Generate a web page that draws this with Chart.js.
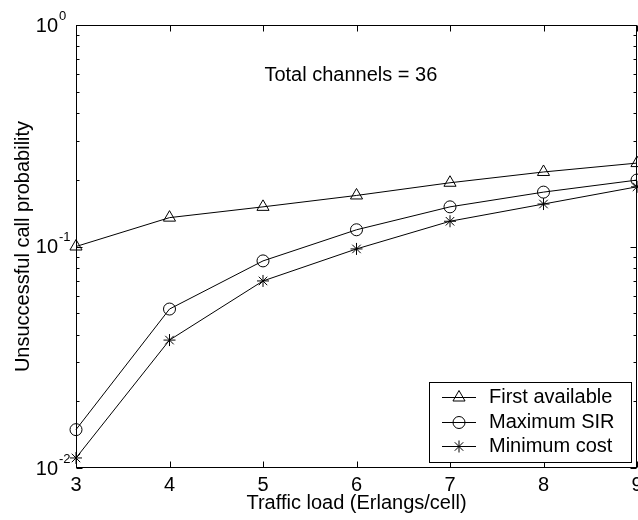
<!DOCTYPE html>
<html>
<head>
<meta charset="utf-8">
<script src="https://cdn.jsdelivr.net/npm/chart.js@4.4.1/dist/chart.umd.min.js"></script>
<style>
  html, body { margin: 0; padding: 0; background: #fff; overflow: hidden; }
</style>
</head>
<body>
<canvas id="chart" width="638" height="520"></canvas>
<script>
// data
const loads = [3, 4, 5, 6, 7, 8, 9];
const firstAvailable = [0.100, 0.135, 0.151, 0.170, 0.194, 0.217, 0.238];
const maximumSir = [0.0149, 0.0522, 0.0861, 0.119, 0.151, 0.176, 0.1995];
const minimumCost = [0.0111, 0.0378, 0.0699, 0.0975, 0.130, 0.1555, 0.186];
const seriesNames = ['First available', 'Maximum SIR', 'Minimum cost'];
const xTicks = [3, 4, 5, 6, 7, 8, 9];
const yExponents = [-2, -1, 0];
const note = 'Total channels = 36';

const FONT = '"Liberation Sans", Arial, Helvetica, sans-serif';
const SIZE = 20;

function toPoints(values) {
  return loads.map((x, i) => ({ x, y: values[i] }));
}

function series(label, values, pointStyle, radius) {
  return {
    label,
    data: toPoints(values),
    borderColor: '#000',
    borderWidth: 1,
    pointStyle,
    pointRadius: radius,
    pointBorderColor: '#000',
    pointBorderWidth: 1,
    pointBackgroundColor: 'rgba(0,0,0,0)',
    tension: 0,
    clip: false,
  };
}

// box, inward ticks, superscript y labels, note and legend
const figurePlugin = {
  id: 'figure',
  afterDraw(chart) {
    const { ctx, chartArea: a } = chart;
    const xs = chart.scales.x;
    const ys = chart.scales.y;
    const L = Math.round(a.left) + 0.5;
    const R = Math.round(a.right) - 0.5;
    const T = Math.round(a.top) + 0.5;
    const B = Math.round(a.bottom) - 0.5;
    ctx.save();
    ctx.strokeStyle = '#000';
    ctx.lineWidth = 1;
    ctx.strokeRect(L, T, R - L, B - T);

    ctx.beginPath();
    xTicks.forEach((v) => {
      const px = Math.round(xs.getPixelForValue(v)) + 0.5;
      ctx.moveTo(px, B); ctx.lineTo(px, B - 6);
      ctx.moveTo(px, T); ctx.lineTo(px, T + 6);
    });
    yExponents.forEach((e) => {
      const py = Math.round(ys.getPixelForValue(10 ** e)) + 0.5;
      ctx.moveTo(L, py); ctx.lineTo(L + 6, py);
      ctx.moveTo(R, py); ctx.lineTo(R - 6, py);
      if (e < 0) {
        for (let m = 2; m <= 9; m += 1) {
          const pm = Math.round(ys.getPixelForValue(m * 10 ** e)) + 0.5;
          ctx.moveTo(L, pm); ctx.lineTo(L + 3, pm);
          ctx.moveTo(R, pm); ctx.lineTo(R - 3, pm);
        }
      }
    });
    ctx.stroke();

    ctx.fillStyle = '#000';
    yExponents.forEach((e) => {
      const py = ys.getPixelForValue(10 ** e);
      ctx.font = `${SIZE}px ${FONT}`;
      ctx.textAlign = 'right';
      ctx.textBaseline = 'middle';
      ctx.fillText('10', a.left - 18, py + 1);
      ctx.font = `13px ${FONT}`;
      ctx.textAlign = 'left';
      ctx.fillText(String(e), a.left - 17, py - 9);
    });

    ctx.font = `${SIZE}px ${FONT}`;
    ctx.textAlign = 'center';
    ctx.textBaseline = 'middle';
    ctx.fillText(note, xs.getPixelForValue(5.94), ys.getPixelForValue(0.594));

    // legend box
    const box = { left: 429.5, top: 382.5, right: 631.5, bottom: 462.5 };
    ctx.fillStyle = '#fff';
    ctx.fillRect(box.left, box.top, box.right - box.left, box.bottom - box.top);
    ctx.strokeRect(box.left, box.top, box.right - box.left, box.bottom - box.top);
    chart.data.datasets.forEach((ds, i) => {
      const y = Math.round(397 + i * 24.5) + 0.5;
      ctx.beginPath();
      ctx.moveTo(442, y); ctx.lineTo(476, y);
      ctx.stroke();
      ctx.fillStyle = 'rgba(0,0,0,0)';
      Chart.helpers.drawPoint(ctx, {
        pointStyle: ds.pointStyle,
        radius: ds.pointRadius,
        borderWidth: 1,
        rotation: 0,
      }, 459, y);
      ctx.fillStyle = '#000';
      ctx.textAlign = 'left';
      ctx.fillText(ds.label, 489, y);
    });
    ctx.restore();
  },
};

new Chart(document.getElementById('chart'), {
  type: 'line',
  data: {
    datasets: [
      series(seriesNames[0], firstAvailable, 'triangle', 7),
      series(seriesNames[1], maximumSir, 'circle', 6),
      series(seriesNames[2], minimumCost, 'star', 6),
    ],
  },
  options: {
    responsive: false,
    animation: false,
    devicePixelRatio: 1,
    layout: { autoPadding: false, padding: { top: 25, right: 1, left: 0, bottom: 0 } },
    plugins: { legend: { display: false }, tooltip: { enabled: false } },
    scales: {
      x: {
        type: 'linear',
        min: 3,
        max: 9,
        afterBuildTicks: (scale) => { scale.ticks = xTicks.map((value) => ({ value })); },
        afterFit: (scale) => {
          scale.height = 52;
          scale.paddingLeft = 0;
          scale.paddingRight = 0;
        },
        ticks: { color: '#000', padding: 5, font: { family: FONT, size: SIZE } },
        grid: { display: false, drawTicks: false },
        border: { display: false },
        title: {
          display: true,
          text: 'Traffic load (Erlangs/cell)',
          color: '#000',
          font: { family: FONT, size: SIZE },
          padding: { top: 0, bottom: 5 },
        },
      },
      y: {
        type: 'logarithmic',
        min: 0.01,
        max: 1,
        afterFit: (scale) => {
          scale.width = 76;
          scale.paddingTop = 0;
          scale.paddingBottom = 0;
        },
        ticks: { display: false },
        grid: { display: false, drawTicks: false },
        border: { display: false },
        title: {
          display: true,
          text: 'Unsuccessful call probability',
          color: '#000',
          font: { family: FONT, size: SIZE },
          padding: { top: 11, bottom: 0 },
        },
      },
    },
  },
  plugins: [figurePlugin],
});
</script>
</body>
</html>
